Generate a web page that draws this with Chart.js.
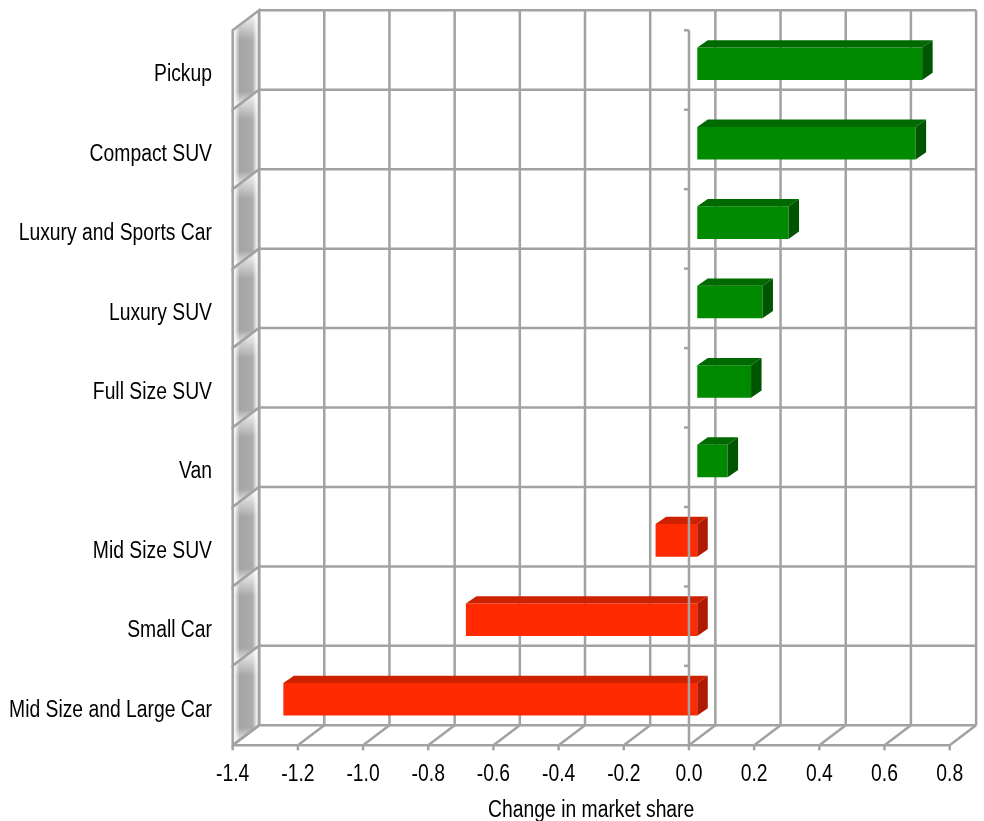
<!DOCTYPE html>
<html>
<head>
<meta charset="utf-8">
<script src="https://cdn.jsdelivr.net/npm/chart.js@4/dist/chart.umd.min.js"></script>
<style>
  html, body { margin: 0; padding: 0; background: #fff; }
  #wrap { width: 984px; height: 821px; }
</style>
</head>
<body>
<div id="wrap"><canvas id="myChart" width="984" height="821"></canvas></div>
<script>
// data
const categories = ["Pickup", "Compact SUV", "Luxury and Sports Car", "Luxury SUV", "Full Size SUV",
  "Van", "Mid Size SUV", "Small Car", "Mid Size and Large Car"];
const shareChange = [0.69, 0.67, 0.28, 0.20, 0.165, 0.093, -0.128, -0.71, -1.27];
const xTickRange = [-1.4, 0.8];
const xTickStep = 0.2;
const axisTitle = 'Change in market share';

// no narrow font installed, so text is squeezed horizontally
const FONT = "23px 'Liberation Sans', Arial, sans-serif";
const SQUEEZE = 0.84;
const GRID = '#a2a2a2';

// oblique 3D offsets (bar plane -> front plane / back wall), bar depth
const FRONT = { dx: -8.3, dy: 6.3 };
const BACK = { dx: 18.1, dy: -13.7 };
const BAR_DEPTH = { dx: 10.5, dy: -7.3 };

const faceColors = v => v >= 0
  ? { front: '#008a00', top: '#006a00', side: '#005500' }
  : { front: '#ff2a00', top: '#cc2200', side: '#b01a00' };

function line(ctx, x1, y1, x2, y2) {
  ctx.beginPath();
  ctx.moveTo(x1, y1);
  ctx.lineTo(x2, y2);
  ctx.stroke();
}

function squeezedText(ctx, text, x, y, align) {
  ctx.save();
  ctx.font = FONT;
  ctx.fillStyle = '#000';
  ctx.textAlign = align;
  ctx.textBaseline = 'alphabetic';
  ctx.scale(SQUEEZE, 1);
  ctx.fillText(text, x / SQUEEZE, y);
  ctx.restore();
}

function panelPath(ctx, fx, bx, fy0, by0, fy1, by1) {
  ctx.beginPath();
  ctx.moveTo(fx, fy0);
  ctx.lineTo(bx, by0);
  ctx.lineTo(bx, by1);
  ctx.lineTo(fx, fy1);
  ctx.closePath();
}

const box3d = {
  id: 'box3d',
  beforeDatasetsDraw(chart) {
    const { ctx, chartArea: a, scales: { x } } = chart;
    const n = categories.length;
    const band = (a.bottom - a.top) / n;
    const ticks = x.ticks.map(t => x.getPixelForValue(t.value));
    const xl = ticks[0];
    ctx.save();
    ctx.lineWidth = 2.5;
    ctx.strokeStyle = GRID;

    // left wall panels
    const fx = xl + FRONT.dx, bx = xl + BACK.dx;
    for (let k = 0; k < n; k++) {
      const y0 = a.top + k * band, y1 = y0 + band;
      const hg = ctx.createLinearGradient(fx + 2, 0, bx - 2, 0);
      hg.addColorStop(0, '#f4f4f4');
      hg.addColorStop(0.22, '#a4a4a4');
      hg.addColorStop(0.8, '#acacac');
      hg.addColorStop(1, '#f4f4f4');
      ctx.fillStyle = hg;
      panelPath(ctx, fx, bx, y0 + FRONT.dy, y0 + BACK.dy, y1 + FRONT.dy, y1 + BACK.dy);
      ctx.fill();
      const vg = ctx.createLinearGradient(0, y0 + BACK.dy, 0, y1 + FRONT.dy);
      vg.addColorStop(0, 'rgba(255,255,255,1)');
      vg.addColorStop(0.3, 'rgba(255,255,255,0)');
      vg.addColorStop(0.82, 'rgba(255,255,255,0)');
      vg.addColorStop(1, 'rgba(255,255,255,1)');
      ctx.fillStyle = vg;
      ctx.fill();
      ctx.stroke();
    }

    // back wall grid
    const bt = a.top + BACK.dy, bb = a.bottom + BACK.dy;
    ticks.forEach(px => line(ctx, px + BACK.dx, bt, px + BACK.dx, bb));
    for (let k = 0; k <= n; k++) {
      const yy = a.top + k * band + BACK.dy;
      line(ctx, ticks[0] + BACK.dx, yy, ticks[ticks.length - 1] + BACK.dx, yy);
    }

    // floor
    const fy = a.bottom + FRONT.dy;
    ticks.forEach(px => {
      line(ctx, px + FRONT.dx, fy, px + BACK.dx, bb);
      line(ctx, px + FRONT.dx, fy, px + FRONT.dx, fy + 5);
    });
    line(ctx, ticks[0] + FRONT.dx, fy, ticks[ticks.length - 1] + FRONT.dx, fy);
    ctx.restore();
  },
  afterDatasetsDraw(chart) {
    const { ctx, chartArea: a, scales: { x, y } } = chart;
    const meta = chart.getDatasetMeta(0);
    ctx.save();
    meta.data.forEach((bar, i) => {
      const c = faceColors(shareChange[i]);
      const l = Math.min(bar.x, bar.base), r = Math.max(bar.x, bar.base);
      const t = bar.y - bar.height / 2, b = bar.y + bar.height / 2;
      ctx.fillStyle = c.top;
      ctx.beginPath();
      ctx.moveTo(l, t);
      ctx.lineTo(l + BAR_DEPTH.dx, t + BAR_DEPTH.dy);
      ctx.lineTo(r + BAR_DEPTH.dx, t + BAR_DEPTH.dy);
      ctx.lineTo(r, t);
      ctx.closePath();
      ctx.fill();
      ctx.fillStyle = c.side;
      ctx.beginPath();
      ctx.moveTo(r, t);
      ctx.lineTo(r + BAR_DEPTH.dx, t + BAR_DEPTH.dy);
      ctx.lineTo(r + BAR_DEPTH.dx, b + BAR_DEPTH.dy);
      ctx.lineTo(r, b);
      ctx.closePath();
      ctx.fill();
    });

    // vertical axis at zero, on the front plane, over the bars
    const n = categories.length;
    const band = (a.bottom - a.top) / n;
    const zx = x.getPixelForValue(0) + FRONT.dx;
    ctx.lineWidth = 2.5;
    ctx.strokeStyle = GRID;
    line(ctx, zx, a.top + FRONT.dy, zx, a.bottom + FRONT.dy);
    for (let k = 0; k < n; k++) {
      const yy = a.top + k * band + FRONT.dy;
      line(ctx, zx - 5, yy, zx, yy);
    }

    // category labels
    categories.forEach((c, i) => squeezedText(ctx, c, a.left - 29, y.getPixelForValue(i) + 17.5, 'right'));
    // value ticks on the front edge of the floor
    x.ticks.forEach(t => {
      const v = Math.abs(t.value) < 1e-9 ? 0 : t.value;
      squeezedText(ctx, v.toFixed(1), x.getPixelForValue(t.value) + FRONT.dx, a.bottom + 42, 'center');
    });
    const mid = (x.getPixelForValue(xTickRange[0]) + x.getPixelForValue(xTickRange[1])) / 2 + FRONT.dx;
    squeezedText(ctx, axisTitle, mid, a.bottom + 78, 'center');
    ctx.restore();
  }
};

const ctx = document.getElementById('myChart').getContext('2d');
new Chart(ctx, {
  type: 'bar',
  data: {
    labels: categories,
    datasets: [{
      label: axisTitle,
      data: shareChange,
      backgroundColor: shareChange.map(v => faceColors(v).front),
      borderWidth: 0,
      categoryPercentage: 1,
      barPercentage: 0.41
    }]
  },
  options: {
    indexAxis: 'y',
    responsive: false,
    animation: false,
    layout: { padding: { top: 24, right: 26, left: 241, bottom: 82 } },
    plugins: {
      legend: { display: false },
      tooltip: { enabled: false }
    },
    scales: {
      x: {
        type: 'linear',
        display: false,
        min: xTickRange[0],
        max: xTickRange[1],
        ticks: { stepSize: xTickStep }
      },
      y: {
        display: false
      }
    }
  },
  plugins: [box3d]
});
</script>
</body>
</html>
